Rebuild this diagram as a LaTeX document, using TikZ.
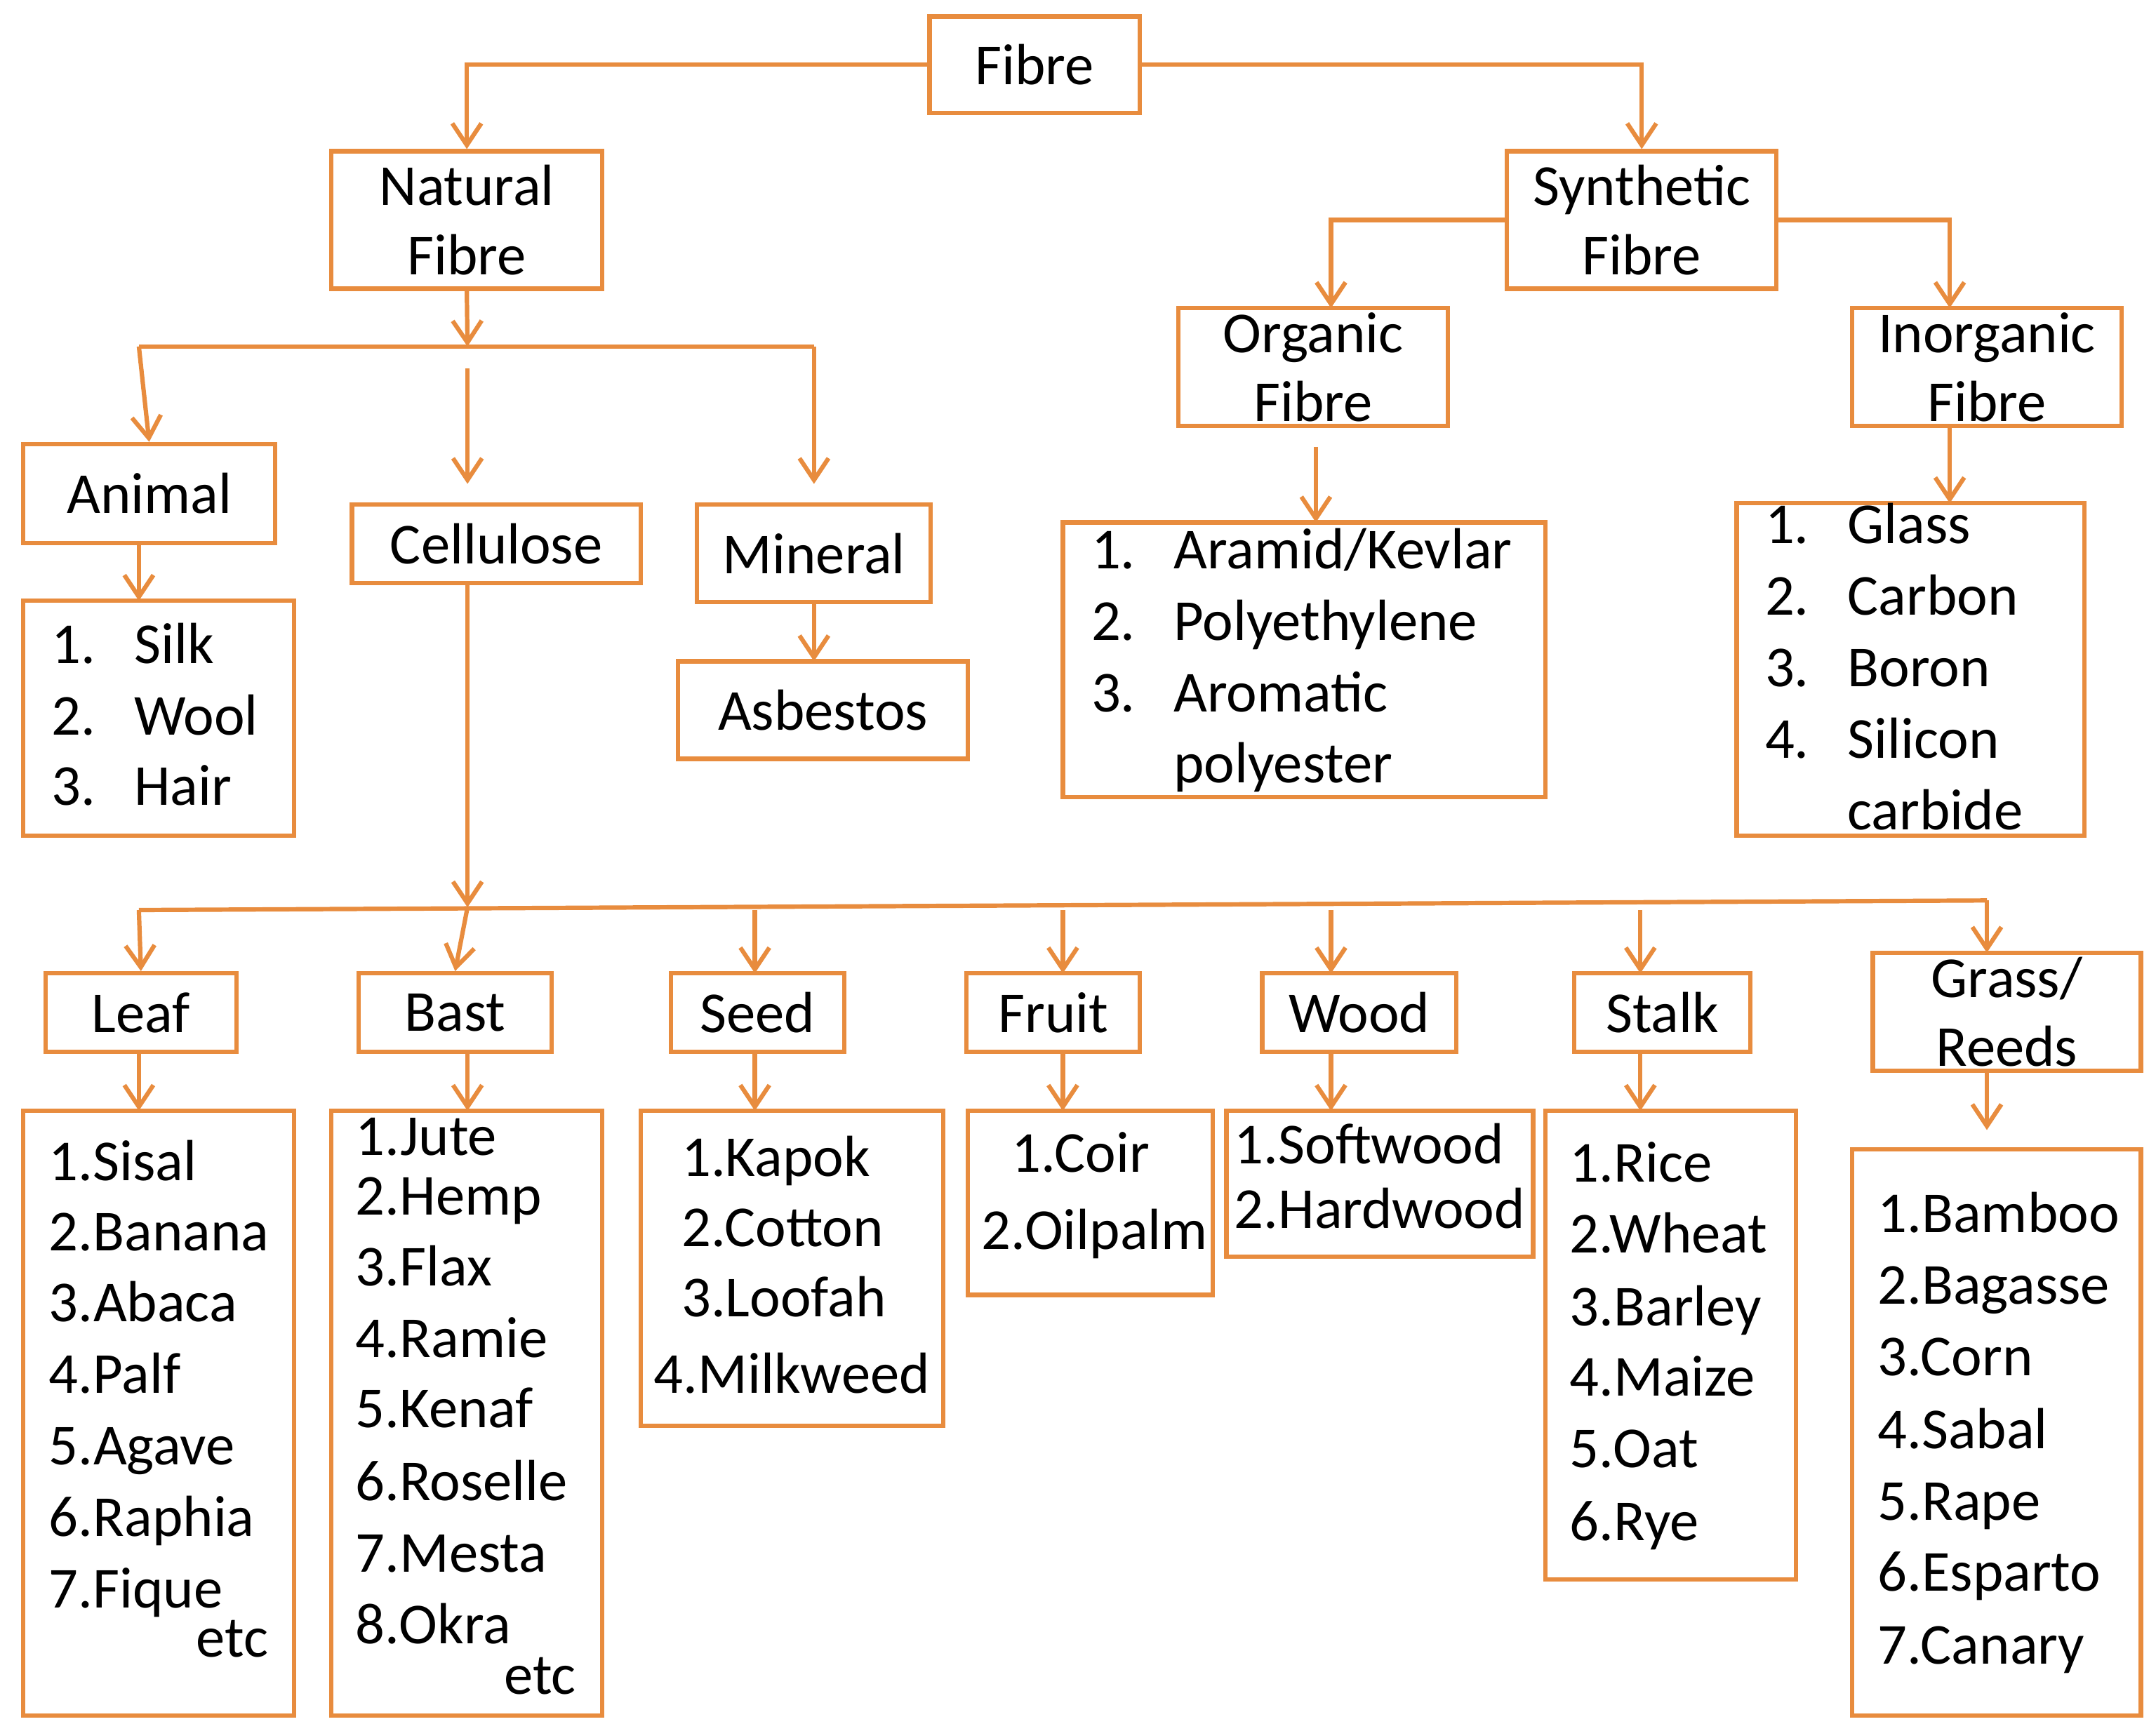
\documentclass[tikz,border=0pt]{standalone}
\usepackage{fontspec}
\setmainfont{Carlito}
\usetikzlibrary{arrows.meta}
\definecolor{og}{RGB}{232,140,62}
\tikzset{
 box/.style={draw=og,line width=0.9pt,inner sep=0pt,align=center,font=\fontsize{12}{14.3}\selectfont},
 ln/.style={draw=og,line width=0.9pt},
 arr/.style={ln,-{Straight Barb[length=4.5pt,width=6pt]}},
 item/.style={inner sep=0pt,anchor=west,text height=8.6pt,text depth=2.6pt,font=\fontsize{12}{14}\selectfont},
}
\newcommand\bx[6]{\pgfmathsetmacro\bw{(#4-#2)*0.01}\pgfmathsetmacro\bh{(#5-#3)*0.01}%
\node[box,minimum width=\bw cm,minimum height=\bh cm] (#1) at ({(#2+#4)/2},{(#3+#5)/2}) {#6};}
\newcommand\li[4]{\node[item] (#1) at (#2,#3) {#4};}
\newcommand\nl[6]{\node[item] (#1n) at (#2,#4) {#5};\node[item] (#1t) at (#3,#4) {#6};}
\begin{document}
\begin{tikzpicture}[x=0.01cm,y=-0.01cm]
\useasboundingbox (0,0) rectangle (1568,1259);
\bx{fibre}{676}{12}{829}{82}{Fibre}
\bx{natural}{241}{110}{438}{210}{Natural\\Fibre}
\bx{synth}{1096}{110}{1292}{210}{Synthetic\\Fibre}
\bx{organic}{857}{224}{1053}{310}{Organic\\Fibre}
\bx{inorg}{1347}{224}{1543}{310}{Inorganic\\Fibre}
\bx{animal}{17}{323}{200}{395}{Animal}
\bx{cellu}{256}{367}{466}{424}{Cellulose}
\bx{mineral}{507}{367}{677}{438}{Mineral}
\bx{asb}{493}{481}{704}{552}{Asbestos}
\bx{animall}{17}{437}{214}{608}{}
\bx{orgl}{773}{380}{1124}{580}{}
\bx{inorgl}{1263}{366}{1516}{608}{}
\bx{leaf}{33}{708}{172}{765}{Leaf}
\bx{bast}{261}{708}{401}{765}{Bast}
\bx{seed}{488}{708}{614}{765}{Seed}
\bx{fruit}{703}{708}{829}{765}{Fruit}
\bx{wood}{918}{708}{1059}{765}{Wood}
\bx{stalk}{1145}{708}{1273}{765}{Stalk}
\bx{grass}{1362}{693}{1557}{779}{Grass/\\Reeds}
\bx{leafl}{17}{808}{214}{1248}{}
\bx{bastl}{241}{808}{438}{1248}{}
\bx{seedl}{466}{808}{686}{1037}{}
\bx{fruitl}{704}{808}{882}{942}{}
\bx{woodl}{892}{808}{1115}{914}{}
\bx{stalkl}{1124}{808}{1306}{1149}{}
\bx{grassl}{1347}{836}{1557}{1248}{}
% lists
\nl{a1}{37}{97}{472}{1.}{Silk}
\nl{a2}{37}{97}{524}{2.}{Wool}
\nl{a3}{37}{97}{575}{3.}{Hair}
\nl{o1}{793}{853}{403}{1.}{Aramid/Kevlar}
\nl{o2}{793}{853}{455}{2.}{Polyethylene}
\nl{o3}{793}{853}{507}{3.}{Aromatic}
\li{o4}{853}{559}{polyester}
\nl{i1}{1283}{1343}{385}{1.}{Glass}
\nl{i2}{1283}{1343}{437}{2.}{Carbon}
\nl{i3}{1283}{1343}{489}{3.}{Boron}
\nl{i4}{1283}{1343}{541}{4.}{Silicon}
\li{i5}{1343}{593}{carbide}
\li{l1}{35}{848}{1.Sisal}
\li{l2}{35}{899}{2.Banana}
\li{l3}{35}{951}{3.Abaca}
\li{l4}{35}{1003}{4.Palf}
\li{l5}{35}{1055}{5.Agave}
\li{l6}{35}{1107}{6.Raphia}
\li{l7}{35}{1159}{7.Fique}
\li{l8}{142}{1195}{etc}
\li{b1}{258}{830}{1.Jute}
\li{b2}{258}{873}{2.Hemp}
\li{b3}{258}{925}{3.Flax}
\li{b4}{258}{977}{4.Ramie}
\li{b5}{258}{1028}{5.Kenaf}
\li{b6}{258}{1081}{6.Roselle}
\li{b7}{258}{1133}{7.Mesta}
\li{b8}{258}{1185}{8.Okra}
\li{b9}{366}{1222}{etc}
\li{s1}{495}{845}{1.Kapok}
\li{s2}{495}{896}{2.Cotton}
\li{s3}{495}{947}{3.Loofah}
\li{s4}{475}{1003}{4.Milkweed}
\li{f1}{735}{842}{1.Coir}
\li{f2}{713}{898}{2.Oilpalm}
\li{w1}{897}{836}{1.Softwood}
\li{w2}{897}{883}{2.Hardwood}
\li{t1}{1141}{849}{1.Rice}
\li{t2}{1141}{901}{2.Wheat}
\li{t3}{1141}{954}{3.Barley}
\li{t4}{1141}{1005}{4.Maize}
\li{t5}{1141}{1057}{5.Oat}
\li{t6}{1141}{1110}{6.Rye}
\li{g1}{1365}{886}{1.Bamboo}
\li{g2}{1365}{938}{2.Bagasse}
\li{g3}{1365}{990}{3.Corn}
\li{g4}{1365}{1043}{4.Sabal}
\li{g5}{1365}{1095}{5.Rape}
\li{g6}{1365}{1147}{6.Esparto}
\li{g7}{1365}{1200}{7.Canary}
% connectors
\draw[arr] (fibre.west) -| (natural.north);
\draw[arr] (fibre.east) -| (synth.north);
\coordinate (so) at (968,224);
\coordinate (si) at (1418,224);
\draw[arr] (synth.west) -| (so);
\draw[arr] (synth.east) -| (si);
\coordinate (h1) at (101,252);
\coordinate (h2) at (592,252);
\coordinate (hm) at (340,252);
\coordinate (h2e) at (592,352);
\coordinate (c0) at (340,268);
\coordinate (c1) at (340,352);
\draw[arr] (natural.south) -- (hm);
\draw[ln] (h1) -- (h2);
\draw[arr] (h1) -- (animal.north);
\draw[arr] (h2) -- (h2e);
\draw[arr] (c0) -- (c1);
\coordinate (oa) at (957,325);
\coordinate (ob) at (957,380);
\draw[arr] (oa) -- (ob);
\coordinate (ia) at (1418,310);
\coordinate (ib) at (1418,366);
\draw[arr] (ia) -- (ib);
\coordinate (ma) at (101,395);
\coordinate (mb) at (101,437);
\draw[arr] (ma) -- (mb);
\coordinate (na) at (592,438);
\coordinate (nb) at (592,481);
\draw[arr] (na) -- (nb);
\coordinate (cc) at (340,660);
\coordinate (r1) at (101,662);
\coordinate (r2) at (1445,655);
\draw[arr] (340,424) -- (cc);
\draw[ln] (r1) -- (r2);
\draw[arr] (r1) -- (leaf.north);
\draw[arr] (cc) -- (bast.north);
\foreach \x/\n in {549/seed,773/fruit,968/wood,1193/stalk}{
  \coordinate (t\n) at (\x,662);
  \draw[arr] (t\n) -- (\x,708);
}
\draw[arr] (r2) -- (1445,693);
\foreach \x/\n in {101/leaf,340/bast,549/seed,773/fruit,968/wood,1193/stalk}{
  \coordinate (u\n) at (\x,765);
  \draw[arr] (u\n) -- (\x,808);
}
\coordinate (ug) at (1445,779);
\coordinate (vg) at (1445,822);
\draw[arr] (ug) -- (vg);
\end{tikzpicture}
\end{document}
